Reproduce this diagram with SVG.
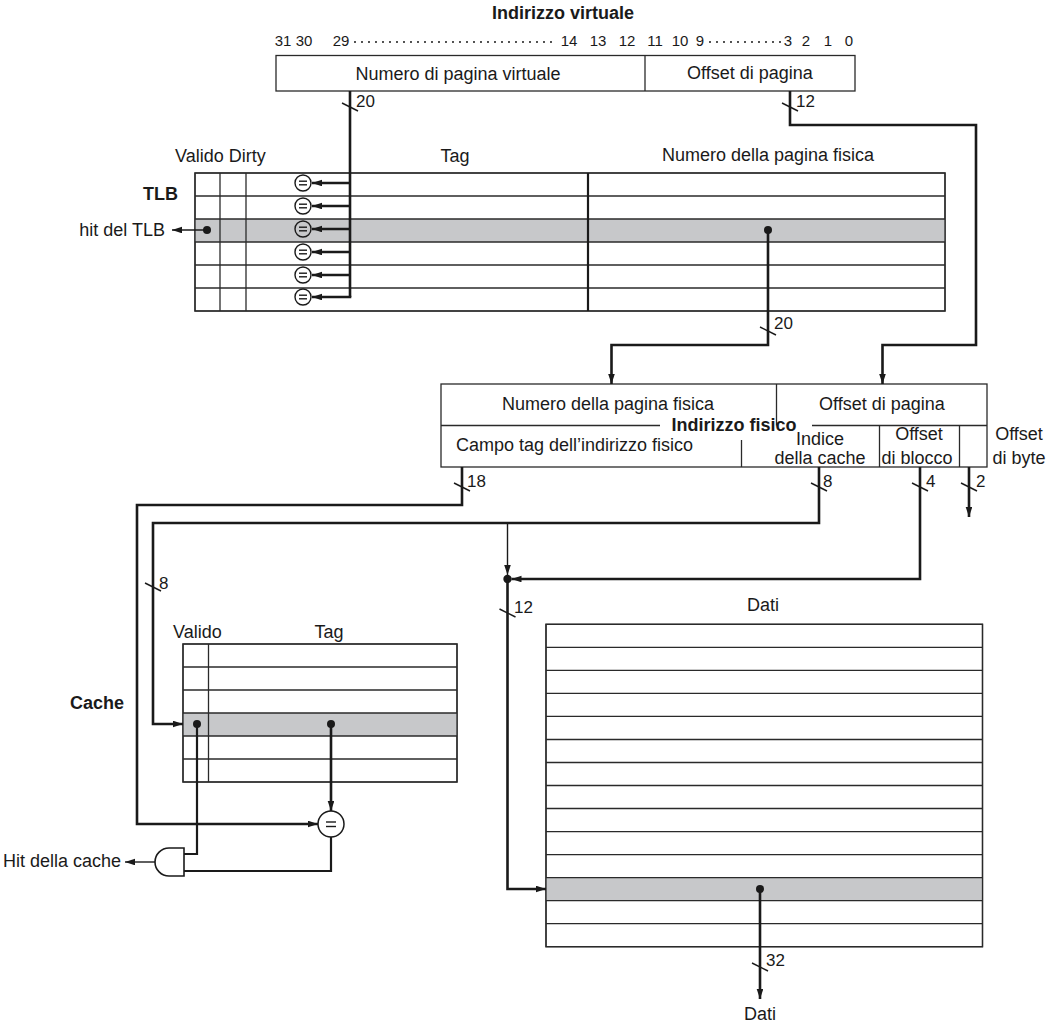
<svg xmlns="http://www.w3.org/2000/svg" width="1054" height="1029" viewBox="0 0 1054 1029">
  <style>
    text { font-family: "Liberation Sans", Arial, Helvetica, sans-serif; fill: #1a1a1a; }
    .t18 { font-size: 18px; }
    .t17 { font-size: 17px; }
    .bits { font-size: 15px; }
    .bold { font-weight: bold; }
    .mid { text-anchor: middle; }
    .end { text-anchor: end; }
    .box { fill: #ffffff; stroke: #2a2a2a; stroke-width: 1.3; }
    .hl { fill: #c7c8ca; stroke: none; }
    .grid { stroke: #2a2a2a; stroke-width: 1.3; fill: none; }
    .thick { stroke: #1a1a1a; stroke-width: 2.2; fill: none; }
    .bus { stroke: #1a1a1a; stroke-width: 2.6; fill: none; stroke-linejoin: miter; }
    .thin { stroke: #1a1a1a; stroke-width: 1.4; fill: none; }
    .slash { stroke: #1a1a1a; stroke-width: 1.4; }
    .dots { stroke: #1a1a1a; stroke-width: 2; stroke-linecap: round; stroke-dasharray: 0 7; }
    .dot { fill: #1a1a1a; }
    .cmp { stroke: #1a1a1a; stroke-width: 1.4; }
  </style>
  <defs>
    <marker id="arrow" markerUnits="userSpaceOnUse" markerWidth="11" markerHeight="8" refX="10" refY="3.3" orient="auto">
      <path d="M0,0 L10,3.3 L0,6.6 Z" fill="#1a1a1a"/>
    </marker>
  </defs>

  <!-- Virtual address -->
  <g id="virtual-address">
    <text class="t18 bold mid" x="563" y="19">Indirizzo virtuale</text>
    <g class="bits mid">
      <text x="283" y="46">31</text>
      <text x="304" y="46">30</text>
      <text x="341" y="46">29</text>
      <text x="569" y="46">14</text>
      <text x="598" y="46">13</text>
      <text x="627" y="46">12</text>
      <text x="655" y="46">11</text>
      <text x="680" y="46">10</text>
      <text x="700" y="46">9</text>
      <text x="788" y="46">3</text>
      <text x="806" y="46">2</text>
      <text x="828" y="46">1</text>
      <text x="849" y="46">0</text>
    </g>
    <line class="dots" x1="355" y1="42" x2="556" y2="42"/>
    <line class="dots" x1="710" y1="42" x2="781" y2="42"/>
    <rect class="box" x="276" y="55.5" width="579" height="35.5"/>
    <line class="grid" x1="645" y1="55.5" x2="645" y2="91"/>
    <text class="t18 mid" x="458" y="80">Numero di pagina virtuale</text>
    <text class="t18 mid" x="750" y="79">Offset di pagina</text>
  </g>

  <!-- TLB -->
  <g id="tlb">
    <text class="t18" x="175" y="162">Valido Dirty</text>
    <text class="t18 mid" x="455" y="162">Tag</text>
    <text class="t18 mid" x="768" y="161">Numero della pagina fisica</text>
    <text class="t18 bold end" x="178" y="200">TLB</text>
    <text class="t18 end" x="165" y="236">hit del TLB</text>
    <rect class="box" x="195" y="173" width="750" height="138"/>
    <rect class="hl" x="195" y="219" width="750" height="23"/>
    <g class="grid">
      <line x1="195" y1="196" x2="945" y2="196"/>
      <line x1="195" y1="219" x2="945" y2="219"/>
      <line x1="195" y1="242" x2="945" y2="242"/>
      <line x1="195" y1="265" x2="945" y2="265"/>
      <line x1="195" y1="288" x2="945" y2="288"/>
      <line x1="220" y1="173" x2="220" y2="311"/>
      <line x1="246" y1="173" x2="246" y2="311"/>
      <rect x="195" y="173" width="750" height="138"/>
    </g>
    <line class="thick" x1="588" y1="173" x2="588" y2="311"/>
    <!-- tag comparators, one per entry -->
    <g id="tlb-comparators">
      <g transform="translate(303,183)"><circle r="8" fill="#fff" class="cmp"/><line class="cmp" x1="-4" y1="-1.8" x2="4" y2="-1.8"/><line class="cmp" x1="-4" y1="1.8" x2="4" y2="1.8"/></g>
      <g transform="translate(303,206)"><circle r="8" fill="#fff" class="cmp"/><line class="cmp" x1="-4" y1="-1.8" x2="4" y2="-1.8"/><line class="cmp" x1="-4" y1="1.8" x2="4" y2="1.8"/></g>
      <g transform="translate(303,229)"><circle r="8" fill="#c7c8ca" class="cmp"/><line class="cmp" x1="-4" y1="-1.8" x2="4" y2="-1.8"/><line class="cmp" x1="-4" y1="1.8" x2="4" y2="1.8"/></g>
      <g transform="translate(303,252)"><circle r="8" fill="#fff" class="cmp"/><line class="cmp" x1="-4" y1="-1.8" x2="4" y2="-1.8"/><line class="cmp" x1="-4" y1="1.8" x2="4" y2="1.8"/></g>
      <g transform="translate(303,275)"><circle r="8" fill="#fff" class="cmp"/><line class="cmp" x1="-4" y1="-1.8" x2="4" y2="-1.8"/><line class="cmp" x1="-4" y1="1.8" x2="4" y2="1.8"/></g>
      <g transform="translate(303,297)"><circle r="8" fill="#fff" class="cmp"/><line class="cmp" x1="-4" y1="-1.8" x2="4" y2="-1.8"/><line class="cmp" x1="-4" y1="1.8" x2="4" y2="1.8"/></g>
    </g>
    <circle class="dot" cx="207" cy="230" r="4"/>
    <circle class="dot" cx="768" cy="230" r="4"/>
  </g>

  <!-- Physical address -->
  <g id="physical-address">
    <rect class="box" x="441" y="384" width="546" height="83"/>
    <g class="grid">
      <line x1="776.5" y1="384" x2="776.5" y2="425.5"/>
      <line x1="441" y1="425.5" x2="660" y2="425.5"/>
      <line x1="812" y1="425.5" x2="987" y2="425.5"/>
      <line x1="741.5" y1="440" x2="741.5" y2="467"/>
      <line x1="879.5" y1="425.5" x2="879.5" y2="467"/>
      <line x1="959.5" y1="425.5" x2="959.5" y2="467"/>
    </g>
    <text class="t18 mid" x="608" y="410">Numero della pagina fisica</text>
    <text class="t18 mid" x="882" y="410">Offset di pagina</text>
    <text class="t18 bold mid" x="734" y="431">Indirizzo fisico</text>
    <text class="t18" x="456" y="451">Campo tag dell’indirizzo fisico</text>
    <text class="t18 mid" x="820" y="445">Indice</text>
    <text class="t18 mid" x="820" y="464">della cache</text>
    <text class="t18 mid" x="919" y="440">Offset</text>
    <text class="t18 mid" x="917" y="464">di blocco</text>
    <text class="t18 mid" x="1019" y="440">Offset</text>
    <text class="t18 mid" x="1019" y="464">di byte</text>
  </g>

  <!-- Cache tag array -->
  <g id="cache">
    <text class="t18" x="173" y="638">Valido</text>
    <text class="t18 mid" x="329" y="638">Tag</text>
    <text class="t18 bold end" x="124" y="709">Cache</text>
    <rect class="box" x="183" y="644" width="274" height="138"/>
    <rect class="hl" x="183" y="713" width="274" height="23"/>
    <g class="grid">
      <line x1="183" y1="667" x2="457" y2="667"/>
      <line x1="183" y1="690" x2="457" y2="690"/>
      <line x1="183" y1="713" x2="457" y2="713"/>
      <line x1="183" y1="736" x2="457" y2="736"/>
      <line x1="183" y1="759" x2="457" y2="759"/>
      <line x1="208.5" y1="644" x2="208.5" y2="782"/>
      <rect x="183" y="644" width="274" height="138"/>
    </g>
    <circle class="dot" cx="197" cy="724" r="4"/>
    <circle class="dot" cx="331" cy="724" r="4"/>
  </g>

  <!-- Cache tag comparator -->
  <g id="cache-comparator">
    <circle cx="331" cy="824" r="13" fill="#fff" stroke="#1a1a1a" stroke-width="1.5"/>
    <line class="cmp" x1="326" y1="822" x2="336" y2="822"/>
    <line class="cmp" x1="326" y1="826.5" x2="336" y2="826.5"/>
  </g>

  <!-- Hit AND gate -->
  <g id="and-gate">
    <path d="M184,848 L169,848 A14,14 0 0 0 169,876 L184,876 Z" fill="#fff" stroke="#1a1a1a" stroke-width="1.6"/>
    <text class="t18 end" x="121" y="867">Hit della cache</text>
  </g>

  <!-- Data array -->
  <g id="data-array">
    <text class="t18 mid" x="763" y="611">Dati</text>
    <rect class="box" x="546" y="624.3" width="436.5" height="322.4"/>
    <rect class="hl" x="546" y="877.7" width="436.5" height="23"/>
    <g class="grid">
      <line x1="546" y1="647.3" x2="982.5" y2="647.3"/>
      <line x1="546" y1="670.4" x2="982.5" y2="670.4"/>
      <line x1="546" y1="693.4" x2="982.5" y2="693.4"/>
      <line x1="546" y1="716.4" x2="982.5" y2="716.4"/>
      <line x1="546" y1="739.5" x2="982.5" y2="739.5"/>
      <line x1="546" y1="762.5" x2="982.5" y2="762.5"/>
      <line x1="546" y1="785.5" x2="982.5" y2="785.5"/>
      <line x1="546" y1="808.5" x2="982.5" y2="808.5"/>
      <line x1="546" y1="831.6" x2="982.5" y2="831.6"/>
      <line x1="546" y1="854.6" x2="982.5" y2="854.6"/>
      <line x1="546" y1="877.7" x2="982.5" y2="877.7"/>
      <line x1="546" y1="900.7" x2="982.5" y2="900.7"/>
      <line x1="546" y1="923.7" x2="982.5" y2="923.7"/>
      <rect x="546" y="624.3" width="436.5" height="322.4"/>
    </g>
    <circle class="dot" cx="760" cy="889" r="4"/>
    <text class="t18 mid" x="760" y="1020">Dati</text>
  </g>

  <!-- Connectors -->
  <g id="connectors">
    <!-- virtual page number fanned out to the TLB comparators -->
    <path class="bus" d="M350,91 V297"/>
    <path class="bus" d="M350,183 H312" marker-end="url(#arrow)"/>
    <path class="bus" d="M350,206 H312" marker-end="url(#arrow)"/>
    <path class="bus" d="M350,229 H312" marker-end="url(#arrow)"/>
    <path class="bus" d="M350,252 H312" marker-end="url(#arrow)"/>
    <path class="bus" d="M350,275 H312" marker-end="url(#arrow)"/>
    <path class="bus" d="M351.3,297 H312" marker-end="url(#arrow)"/>
    <!-- TLB hit -->
    <path class="thin" d="M207,230 H172" marker-end="url(#arrow)"/>
    <!-- page offset copied into the physical address -->
    <path class="bus" d="M790,91 V125 H976 V345 H882.5 V384" marker-end="url(#arrow)"/>
    <!-- physical page number from the TLB -->
    <path class="bus" d="M768,230 V345 H611.5 V384" marker-end="url(#arrow)"/>
    <!-- tag field to the cache comparator -->
    <path class="bus" d="M462,467 V505 H137 V824 H318" marker-end="url(#arrow)"/>
    <!-- cache index -->
    <path class="bus" d="M819,467 V523 H153 V724 H183" marker-end="url(#arrow)"/>
    <path class="thin" d="M507.5,523 V575" marker-end="url(#arrow)"/>
    <!-- block offset -->
    <path class="bus" d="M920,467 V579 H511.5" marker-end="url(#arrow)"/>
    <circle class="dot" cx="507.5" cy="579" r="4.2"/>
    <path class="bus" d="M507.5,579 V889 H546" marker-end="url(#arrow)"/>
    <!-- byte offset -->
    <path class="bus" d="M969,467 V517" marker-end="url(#arrow)"/>
    <!-- valid bit and tag match into the AND gate -->
    <path class="thick" d="M197,724 V854 H184"/>
    <path class="bus" d="M331,724 V811" marker-end="url(#arrow)"/>
    <path class="thick" d="M331,837 V871 H184"/>
    <path class="thin" d="M155,862 H125" marker-end="url(#arrow)"/>
    <!-- data out -->
    <path class="bus" d="M760,889 V999" marker-end="url(#arrow)"/>

    <!-- bus width marks -->
    <g class="slash">
      <line x1="342" y1="103" x2="358" y2="111"/>
      <line x1="782" y1="103" x2="798" y2="111"/>
      <line x1="760" y1="327" x2="776" y2="335"/>
      <line x1="454" y1="483" x2="470" y2="491"/>
      <line x1="811" y1="483" x2="827" y2="491"/>
      <line x1="912" y1="483" x2="928" y2="491"/>
      <line x1="961" y1="483" x2="977" y2="491"/>
      <line x1="145" y1="583" x2="161" y2="591"/>
      <line x1="499.5" y1="609" x2="515.5" y2="617"/>
      <line x1="752" y1="963" x2="768" y2="971"/>
    </g>
    <g class="t17">
      <text x="356" y="107">20</text>
      <text x="796" y="107">12</text>
      <text x="774" y="329">20</text>
      <text x="467" y="487">18</text>
      <text x="823" y="487">8</text>
      <text x="926" y="487">4</text>
      <text x="976" y="487">2</text>
      <text x="159" y="589">8</text>
      <text x="514" y="613">12</text>
      <text x="766" y="966">32</text>
    </g>
  </g>
</svg>
